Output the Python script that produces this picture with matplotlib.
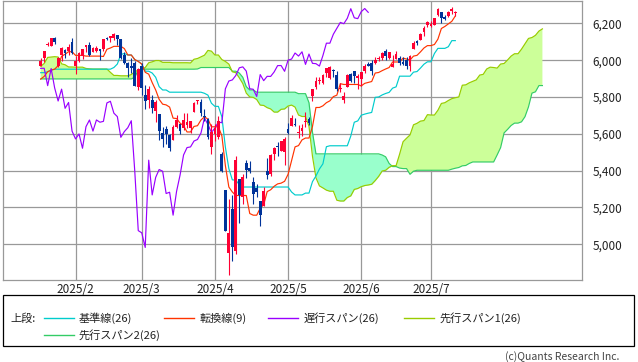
import matplotlib
matplotlib.use('Agg')
import matplotlib.pyplot as plt
from matplotlib.lines import Line2D
from matplotlib.patches import Rectangle
import numpy as np

plt.rcParams['font.family'] = ['Noto Sans CJK JP', 'DejaVu Sans']

# ---- daily candles (2025/1/17 .. 2025/7/11) ----
open_ = [5969.0, 6014.1, 6081.4, 6076.3, 6121.4, 5969.0, 6026.0, 6057.7, 6050.8, 6096.8,
         5969.7, 5998.1, 6020.5, 6072.2, 6083.1, 6046.4, 6049.3, 6062.0, 6060.6, 6115.5,
         6121.6, 6117.8, 6134.5, 6114.1, 6026.7, 5982.7, 5970.9, 5981.9, 5856.7, 5968.3,
         5812.0, 5781.4, 5785.9, 5726.0, 5705.4, 5603.7, 5624.8, 5594.5, 5563.9, 5635.6,
         5654.5, 5632.4, 5646.9, 5630.7, 5718.1, 5775.9, 5771.7, 5695.6, 5679.1, 5527.9,
         5597.5, 5580.8, 5492.7, 5292.1, 4953.8, 5193.6, 4965.3, 5353.2, 5255.6, 5442.0,
         5412.0, 5335.8, 5305.5, 5232.9, 5207.7, 5395.9, 5381.4, 5489.7, 5529.0, 5508.9,
         5499.4, 5625.1, 5645.0, 5655.3, 5605.9, 5614.6, 5663.9, 5680.0, 5807.5, 5854.2,
         5887.4, 5877.9, 5929.1, 5902.9, 5944.7, 5921.0, 5841.3, 5781.9, 5854.1, 5925.5,
         5939.9, 5903.7, 5896.7, 5938.6, 5978.9, 5985.7, 5987.1, 6004.6, 6009.9, 6049.4,
         6009.9, 5963.2, 6004.0, 6012.2, 5987.9, 5999.7, 5969.7, 6061.2, 6104.0, 6112.0,
         6150.7, 6193.4, 6187.3, 6191.9, 6246.5, 6259.0, 6233.0, 6240.0, 6266.0, 6255.7]
high = [6014.0, 6051.5, 6100.8, 6118.7, 6128.2, 6017.2, 6069.1, 6062.8, 6086.6, 6120.9,
        6022.1, 6042.5, 6062.9, 6084.0, 6101.3, 6073.4, 6076.3, 6063.3, 6116.9, 6127.5,
        6129.6, 6147.4, 6134.5, 6114.8, 6043.6, 5992.7, 6009.8, 5993.7, 5959.4, 5986.1,
        5865.1, 5860.6, 5812.1, 5783.0, 5705.4, 5636.3, 5642.2, 5597.8, 5645.3, 5703.5,
        5654.5, 5715.3, 5711.2, 5670.8, 5775.1, 5783.9, 5787.0, 5732.3, 5685.9, 5651.2,
        5650.6, 5695.3, 5499.5, 5292.1, 5246.6, 5267.5, 5481.3, 5353.2, 5381.5, 5459.5,
        5450.4, 5367.2, 5328.3, 5232.9, 5309.6, 5469.7, 5489.4, 5528.1, 5553.7, 5563.0,
        5581.8, 5658.9, 5700.7, 5683.7, 5649.4, 5654.8, 5720.1, 5691.7, 5844.2, 5906.6,
        5906.7, 5924.8, 5958.6, 5968.6, 5953.1, 5938.4, 5878.1, 5829.5, 5924.3, 5929.0,
        5943.1, 5922.1, 5937.4, 5981.4, 5990.5, 5999.7, 6016.9, 6021.3, 6043.0, 6059.4,
        6045.4, 6026.2, 6050.8, 6023.3, 6018.2, 6018.2, 6028.8, 6101.6, 6108.5, 6146.5,
        6187.7, 6215.1, 6210.8, 6227.6, 6284.7, 6262.7, 6242.7, 6269.2, 6290.2, 6269.4]
low = [5969.0, 5990.0, 6076.1, 6074.7, 6088.7, 5962.9, 5994.3, 6012.9, 6027.5, 6030.9,
       5923.9, 5990.9, 6007.1, 6046.8, 6020.0, 6044.8, 6042.3, 6003.0, 6051.0, 6107.6,
       6099.5, 6111.2, 6084.6, 6008.6, 5977.8, 5908.5, 5932.7, 5858.8, 5837.7, 5810.9,
       5732.6, 5742.4, 5711.6, 5666.3, 5564.0, 5528.4, 5546.1, 5504.7, 5563.9, 5631.1,
       5597.8, 5622.2, 5632.3, 5603.1, 5718.1, 5759.6, 5694.2, 5670.9, 5572.4, 5488.7,
       5558.5, 5571.5, 5390.8, 5069.9, 4835.0, 4910.4, 4948.4, 5115.3, 5220.8, 5358.0,
       5386.4, 5220.8, 5255.6, 5101.6, 5207.7, 5356.5, 5372.0, 5455.9, 5478.0, 5505.7,
       5433.2, 5597.4, 5644.1, 5639.7, 5578.6, 5590.0, 5635.6, 5650.3, 5775.6, 5845.9,
       5871.8, 5869.5, 5907.4, 5895.7, 5910.4, 5830.9, 5825.8, 5767.4, 5854.1, 5881.9,
       5873.8, 5843.7, 5861.4, 5929.0, 5966.1, 5921.2, 5978.6, 5994.2, 6000.3, 6002.3,
       6003.9, 5963.2, 6004.0, 5974.8, 5971.9, 5952.6, 5943.2, 6059.4, 6080.2, 6108.4,
       6132.4, 6178.0, 6178.0, 6188.3, 6240.0, 6201.5, 6217.4, 6233.6, 6251.1, 6241.4]
close = [5996.7, 6049.2, 6086.4, 6118.7, 6101.2, 6012.3, 6067.7, 6039.3, 6071.2, 6040.5,
         5994.6, 6037.9, 6061.5, 6083.6, 6026.0, 6066.4, 6068.5, 6052.0, 6115.1, 6114.6,
         6129.6, 6144.2, 6117.5, 6013.1, 5983.3, 5955.3, 5956.1, 5861.6, 5954.5, 5849.7,
         5778.2, 5842.6, 5738.5, 5770.2, 5614.6, 5572.1, 5599.3, 5521.5, 5638.9, 5675.1,
         5614.7, 5675.3, 5662.9, 5667.6, 5767.6, 5776.7, 5712.2, 5693.3, 5580.9, 5611.9,
         5633.1, 5671.0, 5396.5, 5074.1, 5062.3, 4982.8, 5456.9, 5268.1, 5363.4, 5406.0,
         5396.6, 5275.7, 5282.7, 5158.2, 5287.8, 5375.9, 5484.8, 5525.2, 5528.8, 5560.8,
         5569.1, 5604.1, 5686.7, 5650.4, 5606.9, 5631.3, 5663.9, 5659.9, 5844.2, 5886.6,
         5892.6, 5916.9, 5958.4, 5963.6, 5940.5, 5844.6, 5842.0, 5802.8, 5921.5, 5888.6,
         5912.2, 5911.7, 5935.9, 5970.4, 5970.8, 5939.3, 6000.4, 6005.9, 6038.8, 6022.2,
         6045.3, 5977.0, 6033.1, 5982.7, 5980.9, 5967.8, 6025.2, 6092.2, 6092.2, 6141.0,
         6173.1, 6205.0, 6198.0, 6227.4, 6279.4, 6230.0, 6225.5, 6263.3, 6280.5, 6259.8]

# ---- ichimoku lines ----
tenkan = [5897, 5912, 5937, 5946, 5951, 5970, 6021, 6032, 6046, 6046,
          6026, 6026, 6026, 6022, 6022, 6022, 6022, 6022, 6020, 6059,
          6066, 6075, 6075, 6075, 6063, 6028, 6028, 6003, 5993, 5979,
          5934, 5924, 5878, 5838, 5787, 5761, 5757, 5745, 5685, 5683,
          5658, 5644, 5610, 5610, 5640, 5644, 5675, 5692, 5680, 5638,
          5638, 5638, 5589, 5428, 5311, 5284, 5265, 5265, 5265, 5265,
          5167, 5158, 5158, 5196, 5215, 5286, 5296, 5315, 5328, 5332,
          5342, 5380, 5454, 5529, 5536, 5567, 5577, 5577, 5639, 5743,
          5743, 5752, 5769, 5779, 5802, 5810, 5872, 5868, 5868, 5868,
          5868, 5868, 5860, 5874, 5879, 5884, 5930, 5933, 5943, 5952,
          5960, 5990, 5990, 5990, 6011, 6006, 6001, 6022, 6026, 6045,
          6066, 6079, 6079, 6085, 6114, 6172, 6183, 6197, 6211, 6240]
kijun = [5932, 5932, 5937, 5946, 5951, 5951, 5951, 5951, 5951, 5951,
         5951, 5951, 5951, 5951, 5951, 5951, 5951, 5951, 5951, 5951,
         5951, 5960, 5979, 6031, 6036, 6028, 6028, 6003, 5993, 5979,
         5940, 5940, 5930, 5907, 5856, 5838, 5838, 5826, 5826, 5826,
         5826, 5826, 5826, 5826, 5826, 5826, 5826, 5820, 5810, 5766,
         5749, 5749, 5692, 5528, 5411, 5350, 5348, 5324, 5311, 5311,
         5311, 5311, 5311, 5311, 5311, 5311, 5311, 5311, 5311, 5311,
         5311, 5311, 5284, 5268, 5268, 5268, 5278, 5278, 5340, 5371,
         5409, 5437, 5530, 5535, 5535, 5535, 5535, 5535, 5535, 5588,
         5663, 5670, 5701, 5707, 5712, 5716, 5798, 5800, 5811, 5819,
         5825, 5848, 5855, 5913, 5913, 5913, 5913, 5935, 5938, 5957,
         5978, 5991, 5991, 6036, 6064, 6064, 6064, 6073, 6106, 6106]
span1 = [5967, 5982, 6015, 6017, 6019, 6017, 5980, 5975, 5963, 5963,
         5962, 5962, 5962, 5955, 5953, 5952, 5952, 5952, 5952, 5952,
         5934, 5917, 5917, 5915, 5915, 5915, 5922, 5937, 5946, 5951,
         5960, 5986, 5991, 5998, 5998, 5988, 5988, 5988, 5986, 5986,
         5986, 5986, 5986, 5985, 6005, 6009, 6018, 6027, 6053, 6049,
         6028, 6028, 6003, 5993, 5979, 5937, 5932, 5904, 5873, 5821,
         5800, 5798, 5786, 5756, 5754, 5742, 5735, 5718, 5718, 5733,
         5735, 5751, 5756, 5745, 5702, 5694, 5694, 5641, 5478, 5361,
         5317, 5306, 5294, 5288, 5288, 5239, 5235, 5235, 5254, 5263,
         5298, 5303, 5313, 5319, 5322, 5326, 5346, 5369, 5398, 5402,
         5418, 5427, 5427, 5489, 5557, 5576, 5594, 5649, 5657, 5669,
         5672, 5704, 5702, 5702, 5728, 5765, 5769, 5781, 5791, 5796,
         5800, 5864, 5866, 5877, 5885, 5893, 5919, 5923, 5952, 5962,
         5960, 5957, 5979, 5982, 6001, 6022, 6035, 6035, 6060, 6089,
         6118, 6123, 6135, 6158, 6170]
span2 = [5898, 5898, 5898, 5898, 5898, 5898, 5898, 5898, 5898, 5898,
         5898, 5898, 5898, 5898, 5898, 5898, 5898, 5898, 5898, 5898,
         5898, 5898, 5898, 5898, 5898, 5898, 5898, 5907, 5946, 5951,
         5951, 5951, 5951, 5951, 5951, 5951, 5951, 5951, 5951, 5951,
         5951, 5951, 5951, 5951, 5951, 5952, 5960, 5960, 5960, 5960,
         5960, 5960, 5960, 5960, 5960, 5940, 5940, 5930, 5907, 5856,
         5838, 5838, 5826, 5826, 5826, 5826, 5826, 5826, 5826, 5826,
         5826, 5826, 5826, 5826, 5818, 5818, 5818, 5769, 5609, 5491,
         5491, 5491, 5491, 5491, 5491, 5491, 5491, 5491, 5491, 5491,
         5491, 5491, 5491, 5491, 5491, 5491, 5491, 5491, 5485, 5475,
         5439, 5422, 5422, 5414, 5411, 5411, 5380, 5397, 5402, 5402,
         5402, 5402, 5402, 5402, 5402, 5402, 5402, 5402, 5408, 5413,
         5417, 5426, 5428, 5439, 5447, 5447, 5447, 5447, 5447, 5447,
         5447, 5485, 5525, 5605, 5624, 5645, 5658, 5658, 5665, 5693,
         5746, 5821, 5828, 5862, 5862]
chikou_shift = 25

month_pos = [10, 29, 50, 71, 92, 112]
month_labels = ['2025/2', '2025/3', '2025/4', '2025/5', '2025/6', '2025/7']
yticks = [5000, 5200, 5400, 5600, 5800, 6000, 6200]
ytick_labels = ['5,000', '5,200', '5,400', '5,600', '5,800', '6,000', '6,200']

legend_items = [
    ('基準線(26)', '#00CCCC'),
    ('転換線(9)', '#FF3300'),
    ('遅行スパン(26)', '#9900FF'),
    ('先行スパン1(26)', '#99CC00'),
    ('先行スパン2(26)', '#33CC66'),
]

C_UP = '#FF0033'
C_DN = '#003399'
C_TENKAN = '#FF3300'
C_KIJUN = '#00CCCC'
C_CHIKOU = '#9900FF'
C_SPAN1 = '#99CC00'
C_SPAN2 = '#33CC66'
F_SPAN1 = '#CCFF99'
F_SPAN2 = '#99FFCC'
GRID = '#999999'

W, H = 638, 362
fig = plt.figure(figsize=(W / 100, H / 100), dpi=100)
ax = fig.add_axes([3 / W, 1 - 280 / H, 579 / W, 279.5 / H])
ax.set_xlim(-10.82, 155.36)
ax.set_ylim(4806, 6324)

LW = 0.85

# grid
for yv in yticks:
    ax.axhline(yv, color=GRID, lw=0.9, zorder=0)
for xv in month_pos:
    ax.axvline(xv, color=GRID, lw=0.9, zorder=0)

# cloud
s1 = np.array(span1, dtype=float)
s2 = np.array(span2, dtype=float)
xs = np.arange(len(s1))
ax.fill_between(xs, s1, s2, where=s1 >= s2, interpolate=True, color=F_SPAN1, lw=0, zorder=1)
ax.fill_between(xs, s1, s2, where=s1 < s2, interpolate=True, color=F_SPAN2, lw=0, zorder=1)
ax.plot(xs, s2, color=C_SPAN2, lw=LW, zorder=2)
ax.plot(xs, s1, color=C_SPAN1, lw=LW, zorder=2)

n = len(close)
xi = np.arange(n)
ax.plot(xi, kijun, color=C_KIJUN, lw=LW, zorder=3)
ax.plot(xi, tenkan, color=C_TENKAN, lw=LW, zorder=3)
ax.plot(np.arange(n - chikou_shift), close[chikou_shift:], color=C_CHIKOU, lw=LW, zorder=3)

# candles
o = np.array(open_); h = np.array(high); l = np.array(low); c = np.array(close)
cols = [C_UP if cc >= oo else C_DN for oo, cc in zip(o, c)]
ax.vlines(xi, l, h, colors=cols, lw=0.8, zorder=4)
bottom = np.minimum(o, c)
height = np.maximum(np.abs(c - o), 5)
ax.bar(xi, height, bottom=bottom, width=0.8, color=cols, lw=0, zorder=5)

# axes style
for sp in ax.spines.values():
    sp.set_color(GRID)
    sp.set_linewidth(0.9)
ax.yaxis.tick_right()
ax.set_yticks(yticks)
ax.set_yticklabels(ytick_labels)
ax.set_xticks(month_pos)
ax.set_xticklabels(month_labels)
ax.tick_params(axis='y', length=0, pad=7.5, labelsize=8.5, labelcolor='#222222')
ax.tick_params(axis='x', length=0, pad=2, labelsize=8.5, labelcolor='#222222')

# legend box
def fx(px):
    return px / W

def fy(py):
    return 1 - py / H

fig.patches.append(Rectangle((fx(3), fy(346)), fx(631), 51 / H, transform=fig.transFigure,
                             fill=False, edgecolor='black', lw=0.9))
row1 = 318.3
row2 = 335
fig.text(fx(10), fy(row1), '上段:', fontsize=8, va='center', ha='left', color='#222222')
positions = [(44, 78.4, row1), (164, 199.6, row1), (268, 303.7, row1), (404, 439.6, row1), (44, 78.4, row2)]
for (label, colr), (lx, tx, ry) in zip(legend_items, positions):
    fig.add_artist(Line2D([fx(lx), fx(lx + 30)], [fy(ry), fy(ry)], color=colr, lw=1.0,
                          transform=fig.transFigure))
    fig.text(fx(tx), fy(ry), label, fontsize=8, va='center', ha='left', color='#222222')

fig.text(fx(619), fy(357), '(c)Quants Research Inc.', fontsize=7.5, va='center', ha='right',
         color='#444444')

fig.savefig('out.png', dpi=100)
